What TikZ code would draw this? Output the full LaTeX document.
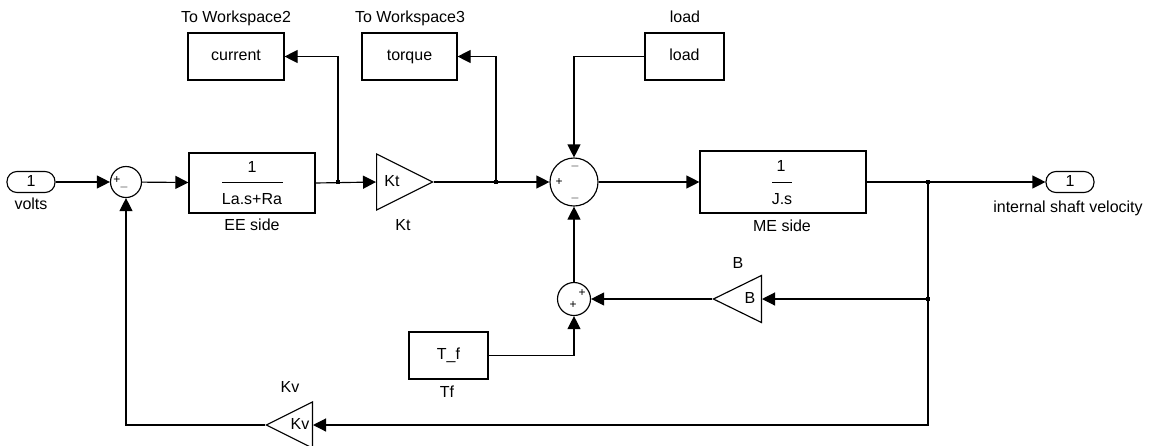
\documentclass[tikz,border=0pt]{standalone}
\usepackage{fontspec}
\setmainfont{Liberation Sans}
\usetikzlibrary{arrows.meta,shapes.geometric}
\begin{document}
\begin{tikzpicture}[x=1pt,y=-1pt,
  line width=1.15pt,
  every node/.style={font=\fontsize{16}{19}\selectfont,inner sep=0pt},
  txt/.style={text height=11.5pt,text depth=3.5pt},
  blk/.style={draw,rectangle,line width=1.15pt},
  port/.style={draw,rectangle,rounded corners=10pt,minimum width=48pt,minimum height=21pt,txt},
  sumc/.style={draw,circle},
  gain/.style={draw,isosceles triangle,isosceles triangle stretches},
  sgn/.style={font=\fontsize{12}{13}\selectfont},
  sig/.style={-{Triangle[length=13pt,width=13pt]}},
  junc/.style={fill,rectangle,minimum size=4pt}
]
\useasboundingbox (0,0) rectangle (1151,445);

% ports
\node[port] (in) at (31,182) {1};
\node[txt] (inl) at (31,205) {volts};
\node[port] (out) at (1070,182) {1};
\node[txt] (outl) at (1068,208) {internal shaft velocity};

% sums
\node[sumc,minimum size=31pt] (s1) at (126,182) {};
\node[sgn] (s1a) at (117,180) {+};
\node[sgn] (s1b) at (124,187) {$-$};
\node[sumc,minimum size=48pt] (s2) at (574,182) {};
\node[sgn] (s2a) at (559,182) {+};
\node[sgn] (s2b) at (575,166) {$-$};
\node[sgn] (s2c) at (575,198) {$-$};
\node[sumc,minimum size=33pt] (s3) at (574,299) {};
\node[sgn] (s3a) at (582,293) {+};
\node[sgn] (s3b) at (573,305) {+};

% transfer blocks
\node[blk,minimum width=126pt,minimum height=60pt] (ee) at (252,183) {};
\node[txt] (ee1) at (252,168) {1};
\draw[line width=1pt] (222,182) -- (283,182);
\node[txt] (ee2) at (252,200) {La.s+Ra};
\node[txt] (eel) at (252,226) {EE side};

\node[blk,minimum width=166pt,minimum height=62pt] (me) at (783,182) {};
\node[txt] (me1) at (781,167) {1};
\node[txt] (me2) at (782,200) {J.s};
\draw[line width=1pt] (772,182) -- (792,182);
\node[txt] (mel) at (782,227) {ME side};

% workspace / constants
\node[blk,txt,minimum width=96pt,minimum height=47pt] (cur) at (236,56.5) {current};
\node[txt] (curl) at (236,18) {To Workspace2};
\node[blk,txt,minimum width=95pt,minimum height=47pt] (tq) at (409.5,56.5) {torque};
\node[txt] (tql) at (410,18) {To Workspace3};
\node[blk,txt,minimum width=79pt,minimum height=47pt] (ld) at (684.5,56.5) {load};
\node[txt] (ldl) at (685,18) {load};
\node[blk,txt,minimum width=79pt,minimum height=47pt] (tf) at (448.5,355.5) {T\_f};
\node[txt] (tfl) at (447,393) {Tf};

% gains
\node[gain,minimum width=56pt,minimum height=56pt,anchor=west] (kt) at (376,182) {};
\node[txt] (ktt) at (392,182) {Kt};
\node[txt] (ktl) at (403,226) {Kt};
\node[gain,shape border rotate=180,minimum width=47pt,minimum height=48pt,anchor=east] (B) at (762,299) {};
\node[txt] (Bt) at (750,299) {B};
\node[txt] (Bl) at (738,264) {B};
\node[gain,shape border rotate=180,minimum width=46pt,minimum height=46pt,anchor=east] (kv) at (313,425) {};
\node[txt] (kvt) at (300,425) {Kv};
\node[txt] (kvl) at (290,388) {Kv};

% junctions
\coordinate (b1) at (338,182);
\coordinate (b2) at (496,182);
\coordinate (b3) at (928,182);
\coordinate (b4) at (928,299);
\node[junc] (j1) at (b1) {};
\node[junc] (j2) at (b2) {};
\node[junc] (j3) at (b3) {};
\node[junc] (j4) at (b4) {};

% connectors
\draw[sig] (in) -- (s1);
\draw[sig] (s1) -- (ee);
\draw[sig] (ee.east) -- (kt.west);
\draw[sig] (b1) |- (cur.east);
\draw[sig] (kt.east) -- (s2.west);
\draw[sig] (b2) |- (tq.east);
\draw[sig] (ld.west) -| (s2.north);
\draw[sig] (s2.east) -- (me.west);
\draw[sig] (me.east) -- (out.west);
\draw (b3) -- (b4);
\draw[sig] (b4) -- (B.east);
\draw[sig] (b4) |- (kv.east);
\draw[sig] (B.west) -- (s3.east);
\draw[sig] (tf.east) -| (s3.south);
\draw[sig] (s3.north) -- (s2.south);
\draw[sig] (kv.west) -| (s1.south);
\end{tikzpicture}
\end{document}
